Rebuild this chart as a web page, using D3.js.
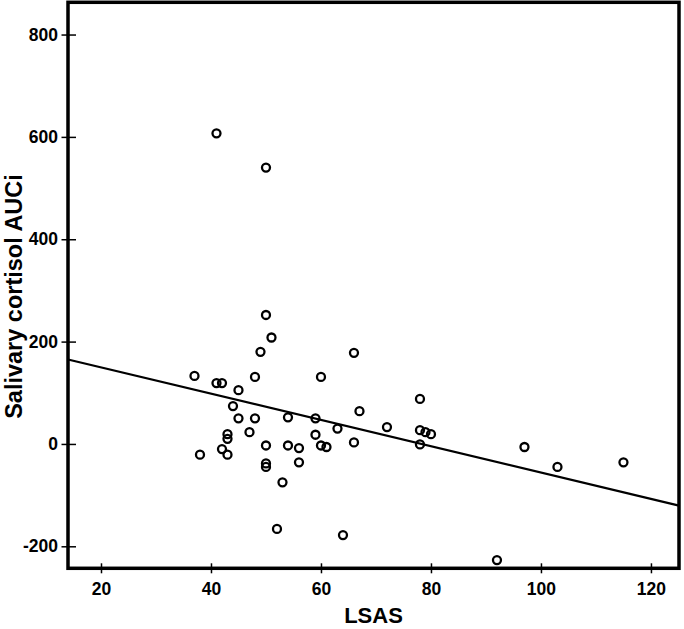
<!DOCTYPE html>
<html lang="en">
<head>
    <meta charset="UTF-8">
    <title>LSAS vs salivary cortisol AUCi</title>
    <script src="https://cdnjs.cloudflare.com/ajax/libs/d3/7.8.5/d3.min.js"></script>
    <style>
        body { margin: 0; background: #fff; }
        svg text { font-family: "Liberation Sans", Arial, sans-serif; font-weight: bold; fill: #000; }
    </style>
</head>
<body>
<svg id="chart" width="684" height="629"></svg>

<script>
    // LSAS score of each participant
    const lsas = [
        41, 50, 50, 51, 49, 66, 37, 41, 42, 48,
        60, 45, 78, 44, 67, 45, 48, 54, 59, 72,
        63, 78, 79, 80, 47, 43, 43, 59, 38, 42,
        43, 50, 54, 56, 60, 61, 66, 78, 97, 103,
        115, 50, 50, 56, 53, 52, 64, 92
    ];
    // salivary cortisol AUCi, same order
    const auci = [
        607, 540, 252, 208, 180, 178, 133, 119, 119, 131,
        131, 105, 88, 74, 64, 50, 50, 52, 50, 33,
        30, 27, 23, 19, 23, 19, 10, 18, -21, -10,
        -21, -3, -3, -8, -3, -6, 3, -1, -6, -45,
        -36, -38, -45, -36, -75, -166, -178, -227
    ];

    // fitted regression line: AUCi = intercept + slope * LSAS
    const fitIntercept = 201;
    const fitSlope = -2.57;

    const xTicks = [20, 40, 60, 80, 100, 120];
    const yTicks = [-200, 0, 200, 400, 600, 800];

    const svg = d3.select("#chart");

    const x = d3.scaleLinear().domain([14, 125.1]).range([68, 679]);
    const y = d3.scaleLinear().domain([-243, 863]).range([568.3, 2.3]);

    const [x0, x1] = x.domain();
    const [y0, y1] = y.domain();

    // regression line across the whole frame
    svg.append("line")
        .attr("x1", x(x0)).attr("y1", y(fitIntercept + fitSlope * x0))
        .attr("x2", x(x1)).attr("y2", y(fitIntercept + fitSlope * x1))
        .attr("stroke", "#000")
        .attr("stroke-width", 2.2);

    // data points
    svg.append("g")
        .selectAll("circle")
        .data(lsas.map((d, i) => [d, auci[i]]))
        .enter()
        .append("circle")
        .attr("cx", d => x(d[0]))
        .attr("cy", d => y(d[1]))
        .attr("r", 4)
        .attr("fill", "none")
        .attr("stroke", "#000")
        .attr("stroke-width", 2.3);

    // axes (ticks cross the frame), plain hyphen for negatives
    const fmt = d => String(d);

    const yAxis = svg.append("g")
        .attr("transform", `translate(${x(x0)},0)`)
        .call(d3.axisLeft(y).tickValues(yTicks).tickFormat(fmt)
            .tickSize(6.5).tickPadding(3.5).tickSizeOuter(0));
    yAxis.selectAll(".tick").append("line").attr("x2", 8).attr("stroke", "#000");

    const xAxis = svg.append("g")
        .attr("transform", `translate(0,${y(y0)})`)
        .call(d3.axisBottom(x).tickValues(xTicks).tickFormat(fmt)
            .tickSize(5).tickPadding(9).tickSizeOuter(0));
    xAxis.selectAll(".tick").append("line").attr("y2", -5).attr("stroke", "#000");

    svg.selectAll(".domain").remove();
    svg.selectAll(".tick line").attr("stroke-width", 1.5);
    svg.selectAll(".tick text").style("font-size", "17.5px");

    // frame
    svg.append("rect")
        .attr("x", x(x0)).attr("y", y(y1))
        .attr("width", x(x1) - x(x0))
        .attr("height", y(y0) - y(y1))
        .attr("fill", "none")
        .attr("stroke", "#000")
        .attr("stroke-width", 3.5);

    // axis titles
    svg.append("text")
        .attr("x", (x(x0) + x(x1)) / 2)
        .attr("y", 623)
        .attr("text-anchor", "middle")
        .style("font-size", "22px")
        .text("LSAS");

    svg.append("text")
        .attr("transform", "translate(21.5,296.5) rotate(-90)")
        .attr("text-anchor", "middle")
        .style("font-size", "23.5px")
        .text("Salivary cortisol AUCi");
</script>
</body>
</html>
